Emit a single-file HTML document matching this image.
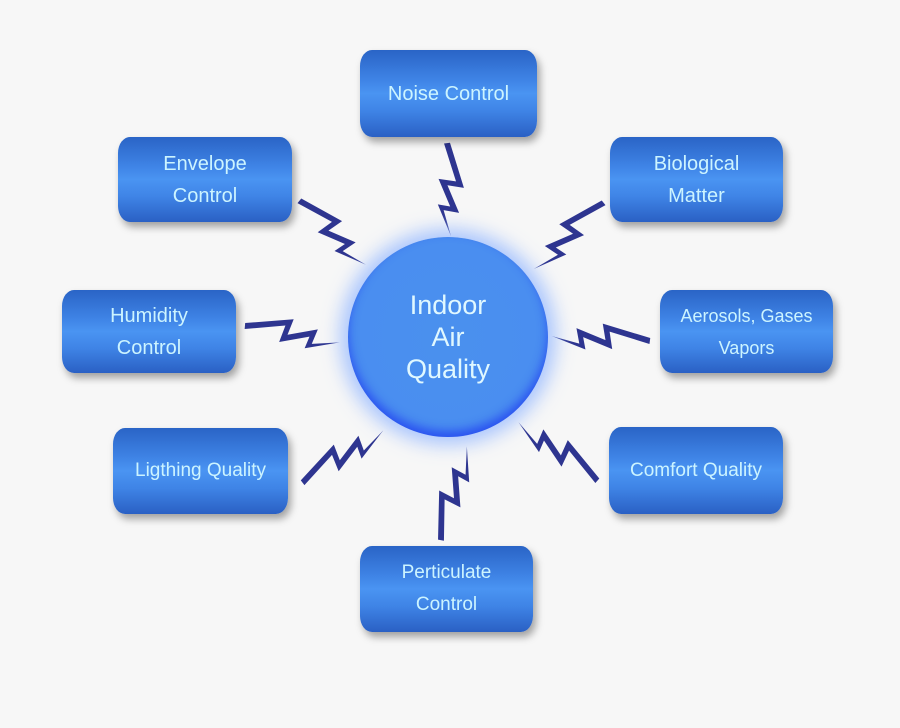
<!DOCTYPE html>
<html><head><style>
body{margin:0;width:900px;height:728px;background:#f7f7f7;position:relative;overflow:hidden;font-family:"Liberation Sans",sans-serif}
.b{position:absolute;border-radius:12px/16px;background:linear-gradient(#2a64c6 0%,#3f84e6 35%,#4a94f2 50%,#3f84e6 70%,#2a60c4 100%);box-shadow:3px 5px 8px rgba(0,0,0,.35);color:#ccf4ff;display:flex;align-items:center;justify-content:center;text-align:center;font-size:20px;line-height:32px}
.c{position:absolute;left:348px;top:237px;width:200px;height:200px;border-radius:50%;background:radial-gradient(circle,#4a90ee 0%,#4a8ef0 72%,#3a6cf2 85%,#1e34ee 100%);box-shadow:0 0 18px 8px rgba(150,185,255,.8),inset 0 -6px 10px rgba(20,40,240,.6);color:#e0f8ff;font-size:27px;line-height:32px;display:flex;align-items:center;justify-content:center;text-align:center}
svg{position:absolute;left:0;top:0}
</style></head><body>
<svg width="900" height="728">
<defs><polygon id="z" points="0,-2 50,-10 45,6 76,-2 71,13 100,9 64,18 68,6 37,14 42,-3 0,4" fill="#2e3590"/></defs>
<use href="#z" transform="translate(448,143) rotate(82.6) scale(0.93,1)"/>
<use href="#z" transform="translate(300,200) rotate(38.9) scale(0.92,1)"/>
<use href="#z" transform="translate(603,202) rotate(141.3) scale(0.96,-1)"/>
<use href="#z" transform="translate(245,325) rotate(5) scale(0.96,1)"/>
<use href="#z" transform="translate(650,340) rotate(187.6) scale(0.98,-1)"/>
<use href="#z" transform="translate(302,482) rotate(-37.8) scale(0.96,1)"/>
<use href="#z" transform="translate(598,480) rotate(221.3) scale(0.98,-1)"/>
<use href="#z" transform="translate(440,540) rotate(-79.3) scale(0.97,1)"/>
</svg>
<div class="c">Indoor<br>Air<br>Quality</div>
<div class="b" style="left:360px;top:50px;width:177px;height:87px">Noise Control</div>
<div class="b" style="left:118px;top:137px;width:174px;height:85px">Envelope<br>Control</div>
<div class="b" style="left:610px;top:137px;width:173px;height:85px">Biological<br>Matter</div>
<div class="b" style="left:62px;top:290px;width:174px;height:83px">Humidity<br>Control</div>
<div class="b" style="left:660px;top:290px;width:173px;height:83px;font-size:18px">Aerosols, Gases<br>Vapors</div>
<div class="b" style="left:113px;top:428px;width:175px;height:86px;font-size:19px">Ligthing Quality</div>
<div class="b" style="left:609px;top:427px;width:174px;height:87px;font-size:19px">Comfort Quality</div>
<div class="b" style="left:360px;top:546px;width:173px;height:86px;font-size:19px">Perticulate<br>Control</div>
</body></html>
